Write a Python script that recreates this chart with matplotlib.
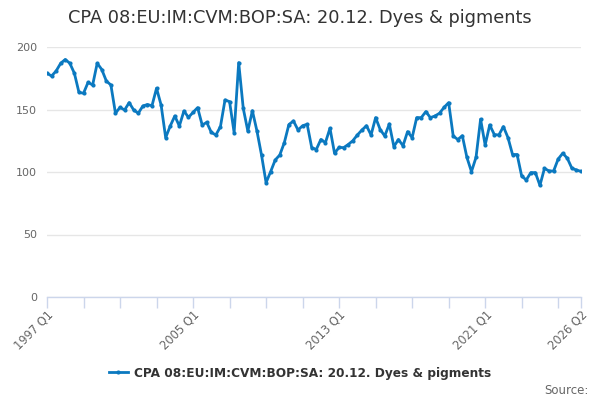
import matplotlib
matplotlib.use('Agg')
import matplotlib.pyplot as plt
from matplotlib.lines import Line2D

# Quarterly index values, 1997 Q1 .. 2026 Q2
values = [
    179, 176.8, 180.8, 187, 190, 187, 179, 163.7, 163, 171.7,
    169.6, 187, 182, 172.8, 169.6, 147, 151.7, 149.6, 155.5, 149.6,
    147, 152.8, 154, 153, 167, 153.6, 127.5, 136.8, 144.8, 136.8,
    148.8, 143.7, 147.7, 151.5, 137.6, 139.7, 131.7, 129.6, 136.3, 157.6,
    156.3, 131.5, 187.5, 150.9, 132.8, 149, 132.8, 113.6, 91.5, 100.3,
    109.6, 113.6, 123.5, 138, 140.8, 133.6, 137, 138.2, 119.5, 118,
    126, 123.5, 135, 115, 119.7, 119.5, 122, 125, 129.6, 133.6,
    137, 129.6, 143.5, 134, 128.8, 138.4, 120.3, 126, 121, 132.3,
    127.5, 143.5, 143.5, 148.3, 143.5, 144.8, 147, 151.7, 155.5, 128.8,
    126, 129, 111.7, 100.3, 111.7, 142.2, 121.6, 137.6, 130, 129.6,
    136.3, 127.5, 114, 114, 96.8, 93.6, 99.5, 99.5, 89.3, 102.9,
    100.8, 100.8, 110.4, 115, 111, 103, 101.6, 100.5,
]
start_year = 1997
quarters = [f"{start_year + i // 4} Q{i % 4 + 1}" for i in range(len(values))]
labelled = ["1997 Q1", "2005 Q1", "2013 Q1", "2021 Q1", "2026 Q2"]
y_ticks = [0, 50, 100, 150, 200]

line_color = '#0b79c0'
axis_color = '#ccd6eb'
text_color = '#333333'
label_color = '#666666'

plt.rcParams['font.family'] = ['DejaVu Sans']

fig = plt.figure(figsize=(6, 4), dpi=100)
ax = fig.add_axes([47 / 600, 1 - 297 / 400, 534 / 600, 250 / 400])

x = list(range(len(values)))
ax.plot(x, values, color=line_color, linewidth=2, marker='o', markersize=3,
        markeredgewidth=0, zorder=3)

ax.set_xlim(0, len(values) - 1)
ax.set_ylim(0, 200)

# ticks every 8 quarters plus the last one, labels only on a few
tick_pos = list(range(0, len(values), 8)) + [len(values) - 1]
ax.set_xticks(tick_pos)
ax.set_xticklabels([quarters[i] if quarters[i] in labelled else '' for i in tick_pos],
                   rotation=45, ha='right', rotation_mode='anchor')
ax.tick_params(axis='x', length=8, width=1, color=axis_color, labelsize=8.3,
               labelcolor=label_color, pad=0)

ax.set_yticks(y_ticks)
ax.tick_params(axis='y', length=0, labelsize=8, labelcolor=label_color, pad=7)
ax.grid(axis='y', color='#e6e6e6', linewidth=1)
ax.set_axisbelow(True)

for side in ['top', 'right', 'left']:
    ax.spines[side].set_visible(False)
ax.spines['bottom'].set_color(axis_color)
ax.spines['bottom'].set_linewidth(1)
ax.spines['bottom'].set_zorder(4)

fig.text(0.5, 1 - 18 / 400, "CPA 08:EU:IM:CVM:BOP:SA: 20.12. Dyes & pigments",
         ha='center', va='center', fontsize=12.8, color=text_color)

handle = Line2D([], [], color=line_color, linewidth=2, marker='o', markersize=3,
                markeredgewidth=0)
leg = fig.legend([handle], ["CPA 08:EU:IM:CVM:BOP:SA: 20.12. Dyes & pigments"],
                 loc='center', bbox_to_anchor=(0.5, 1 - 373 / 400), frameon=False,
                 handlelength=1.6, handletextpad=0.5,
                 prop={'size': 8.7, 'weight': 'bold'})
for t in leg.get_texts():
    t.set_color(text_color)

fig.text(589 / 600, 1 - 390 / 400, "Source:", ha='right', va='center',
         fontsize=8.5, color='#666666')

fig.savefig('out.png', dpi=100)
